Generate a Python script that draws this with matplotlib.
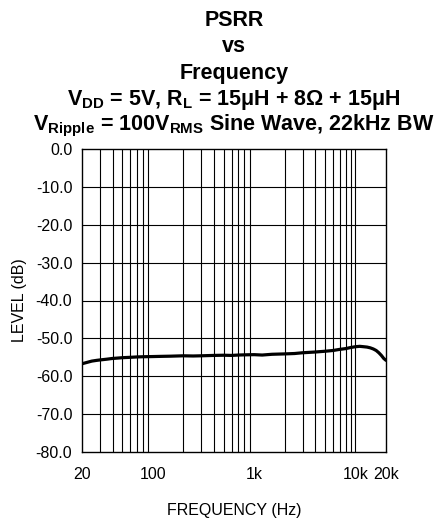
import numpy as np
import matplotlib
matplotlib.use("Agg")
import matplotlib.pyplot as plt

plt.rcParams['font.family'] = ['Liberation Sans', 'DejaVu Sans']

# PSRR curve (Hz, dB)
freq_hz = [20, 22, 25, 28, 30, 35, 40, 45, 50, 60, 70, 80, 100, 120, 150, 200,
           250, 300, 400, 500, 600, 700, 800, 1000, 1200, 1500, 2000, 2500,
           3000, 4000, 5000, 6000, 7000, 8000, 9000, 10000, 11000, 12000,
           13000, 14000, 15000, 16000, 17000, 18000, 19000, 20000]
level_db = [-56.7, -56.4, -56.0, -55.8, -55.7, -55.5, -55.3, -55.2, -55.1,
            -55.0, -54.9, -54.85, -54.8, -54.75, -54.7, -54.6, -54.65, -54.6,
            -54.5, -54.45, -54.5, -54.4, -54.35, -54.3, -54.4, -54.2, -54.1,
            -54.0, -53.8, -53.6, -53.4, -53.2, -52.9, -52.7, -52.4, -52.2,
            -52.1, -52.2, -52.3, -52.5, -52.8, -53.2, -53.8, -54.5, -55.3,
            -55.8]

x_ticks = [20, 100, 1000, 10000, 20000]
x_tick_labels = ['20', '100', '1k', '10k', '20k']
y_ticks = [0, -10, -20, -30, -40, -50, -60, -70, -80]
y_tick_labels = ['0.0', '-10.0', '-20.0', '-30.0', '-40.0', '-50.0', '-60.0',
                 '-70.0', '-80.0']

title_lines = [
    'PSRR',
    'vs',
    'Frequency',
    r'V$\mathregular{_{DD}}$ = 5V, R$\mathregular{_{L}}$ = 15μH + 8Ω + 15μH',
    r'V$\mathregular{_{Ripple}}$ = 100V$\mathregular{_{RMS}}$ Sine Wave, 22kHz BW',
]

fig = plt.figure(figsize=(4.35, 5.21), dpi=100)
W, H = 435, 521
ax = fig.add_axes([82 / W, 1 - 452 / H, (386 - 82) / W, (452 - 149) / H])

ax.set_xscale('log')
ax.set_xlim(20, 20000)
ax.set_ylim(-80, 0)

# log grid: 30..90, 200..900, 2k..10k
grid_x = [m * 10 ** e for e in (1, 2, 3) for m in range(2, 10)] + [10000]
for gx in grid_x:
    if 20 < gx < 20000:
        ax.axvline(gx, color='black', lw=0.8, zorder=1)
for gy in y_ticks[1:-1]:
    ax.axhline(gy, color='black', lw=0.8, zorder=1)

ax.plot(freq_hz, level_db, color='black', lw=2.3, zorder=3,
        solid_capstyle='round', solid_joinstyle='round')

ax.set_xticks(x_ticks)
ax.set_xticklabels(x_tick_labels)
ax.xaxis.set_minor_locator(matplotlib.ticker.NullLocator())
ax.set_yticks(y_ticks)
ax.set_yticklabels(y_tick_labels)
ax.tick_params(length=0, labelsize=11.5, pad=7)
ax.tick_params(axis='x', pad=11)
for s in ax.spines.values():
    s.set_linewidth(1.0)
    s.set_color('black')

ax.set_xlabel('FREQUENCY (Hz)', fontsize=11.5, labelpad=15)
ax.set_ylabel('LEVEL (dB)', fontsize=11.5, labelpad=6)

# title block centred over the plot area
title_x = (82 + 386) / 2 / W
ys = [20, 46, 73, 100, 126]
for t, y in zip(title_lines, ys):
    fig.text(title_x, 1 - y / H, t, ha='center', va='center', fontsize=15.5,
             fontweight='bold')

fig.savefig('out.png', dpi=100)
